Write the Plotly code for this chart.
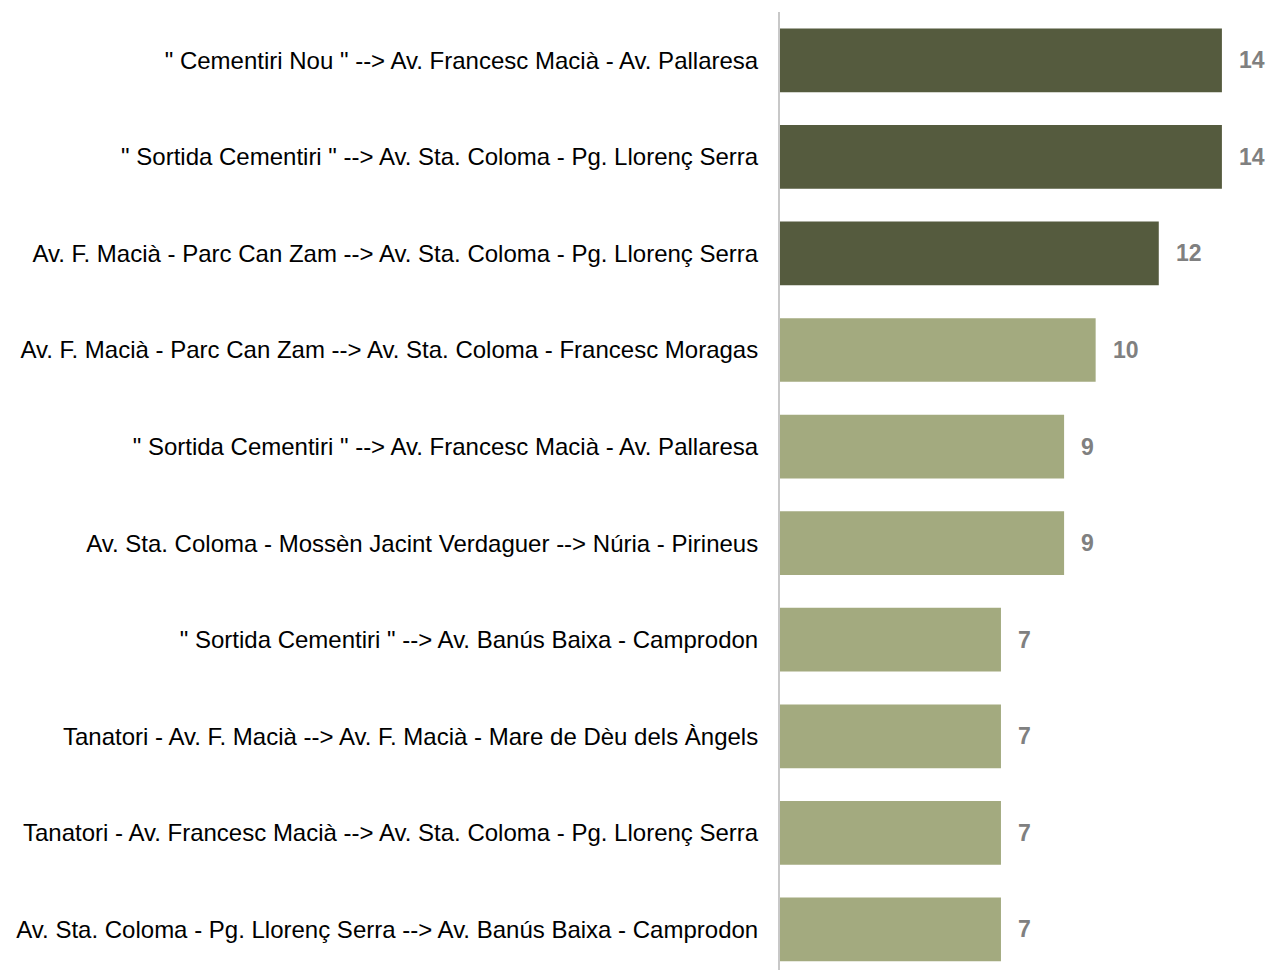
import plotly.graph_objects as go

categories = [
    '" Cementiri Nou " --> Av. Francesc Macià - Av. Pallaresa',
    '" Sortida Cementiri " --> Av. Sta. Coloma - Pg. Llorenç Serra',
    'Av. F. Macià - Parc Can Zam --> Av. Sta. Coloma - Pg. Llorenç Serra',
    'Av. F. Macià - Parc Can Zam --> Av. Sta. Coloma - Francesc Moragas',
    '" Sortida Cementiri " --> Av. Francesc Macià - Av. Pallaresa',
    'Av. Sta. Coloma - Mossèn Jacint Verdaguer --> Núria - Pirineus',
    '" Sortida Cementiri " --> Av. Banús Baixa - Camprodon',
    'Tanatori - Av. F. Macià --> Av. F. Macià - Mare de Dèu dels Àngels',
    'Tanatori - Av. Francesc Macià --> Av. Sta. Coloma - Pg. Llorenç Serra',
    'Av. Sta. Coloma - Pg. Llorenç Serra --> Av. Banús Baixa - Camprodon',
]
values = [14, 14, 12, 10, 9, 9, 7, 7, 7, 7]
highlight = [True, True, True, False, False, False, False, False, False, False]

DARK = "#555B3E"
LIGHT = "#A3AA7F"
colors = [DARK if h else LIGHT for h in highlight]

fig = go.Figure()
fig.add_trace(go.Bar(
    x=values, y=categories, orientation="h",
    marker=dict(color=colors, line=dict(width=0)),
    width=0.66, hoverinfo="x+y",
))

for c, v in zip(categories, values):
    fig.add_annotation(x=v, y=c, text=f"<b>{v}</b>", showarrow=False,
                       xanchor="left", xshift=15,
                       font=dict(family="Liberation Sans, Arial", size=23, color="#808080"))

fig.update_layout(
    width=1268, height=970,
    margin=dict(l=780, r=0, t=12, b=0, autoexpand=False),
    plot_bgcolor="white", paper_bgcolor="white",
    showlegend=False,
    font=dict(family="Liberation Sans, Arial", size=24, color="#000000"),
    xaxis=dict(range=[0, 15.46], showgrid=False, zeroline=False, showticklabels=False,
               showline=False, fixedrange=True),
    yaxis=dict(categoryorder="array", categoryarray=categories,
               range=[9.42, -0.5], showgrid=False, zeroline=False,
               showline=True, linecolor="#C8C8C8", linewidth=2,
               ticks="", ticklabelstandoff=15, automargin=False,
               tickfont=dict(family="Liberation Sans, Arial", size=24, color="#000000")),
)

fig.write_html("out.html", config={"displayModeBar": False},
               post_script="document.body.style.margin='0px';document.body.style.overflow='hidden';")
